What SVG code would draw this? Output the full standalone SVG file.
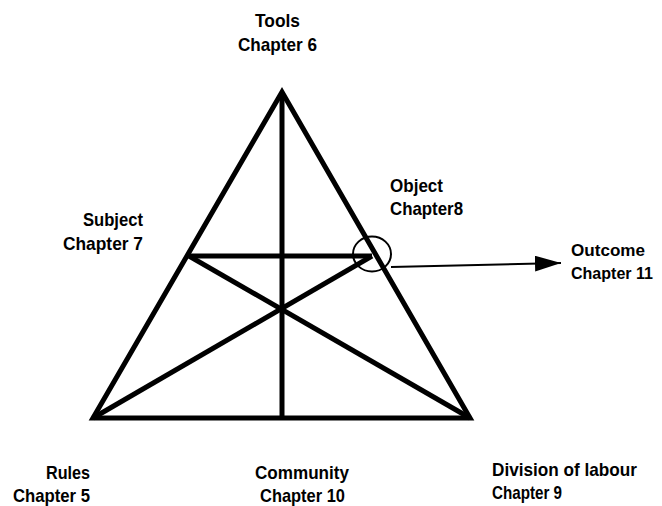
<svg xmlns="http://www.w3.org/2000/svg" width="662" height="506" viewBox="0 0 662 506">
<style>
.t{font-family:"Liberation Sans",Arial,sans-serif;font-weight:bold;font-size:19px;fill:#000}
.s{font-size:17px}
.thick{stroke:#000;stroke-width:5;fill:none;stroke-linecap:butt;stroke-linejoin:miter}
</style>
<defs>
<marker id="ah" viewBox="0 0 26 16" refX="26" refY="8" markerWidth="26" markerHeight="16" markerUnits="userSpaceOnUse" orient="auto"><path d="M0,0L26,8L0,16z" fill="#000"/></marker>
</defs>
<rect width="662" height="506" fill="#fff"/>
<g id="connectors">
<polygon class="thick" points="282,92 470,418 93,418"/>
<line class="thick" x1="282" y1="92" x2="282" y2="418"/>
<line class="thick" x1="189" y1="256" x2="372" y2="256"/>
<line class="thick" x1="93" y1="418" x2="372" y2="256"/>
<line class="thick" x1="470" y1="418" x2="189" y2="256"/>
<line x1="391" y1="267" x2="561" y2="263" stroke="#000" stroke-width="2" marker-end="url(#ah)"/>
</g>
<g id="object-circle"><ellipse cx="372" cy="254" rx="19" ry="17.5" fill="none" stroke="#000" stroke-width="2"/></g>
<g id="tools"><text class="t" x="255" y="27" textLength="45" lengthAdjust="spacingAndGlyphs">Tools</text><text class="t" x="238" y="51" textLength="79" lengthAdjust="spacingAndGlyphs">Chapter 6</text></g>
<g id="subject"><text class="t" x="83" y="226" textLength="60" lengthAdjust="spacingAndGlyphs">Subject</text><text class="t" x="63" y="250" textLength="80" lengthAdjust="spacingAndGlyphs">Chapter 7</text></g>
<g id="object"><text class="t" x="390" y="192" textLength="53" lengthAdjust="spacingAndGlyphs">Object</text><text class="t" x="390" y="215" textLength="73" lengthAdjust="spacingAndGlyphs">Chapter8</text></g>
<g id="outcome"><text class="t s" x="571" y="256" textLength="74" lengthAdjust="spacingAndGlyphs">Outcome</text><text class="t s" x="571" y="279" textLength="82" lengthAdjust="spacingAndGlyphs">Chapter 11</text></g>
<g id="rules"><text class="t" x="46" y="479" textLength="44" lengthAdjust="spacingAndGlyphs">Rules</text><text class="t" x="13" y="502" textLength="77" lengthAdjust="spacingAndGlyphs">Chapter 5</text></g>
<g id="community"><text class="t" x="255" y="479" textLength="94" lengthAdjust="spacingAndGlyphs">Community</text><text class="t" x="260" y="502" textLength="85" lengthAdjust="spacingAndGlyphs">Chapter 10</text></g>
<g id="division"><text class="t" x="492" y="476" textLength="145" lengthAdjust="spacingAndGlyphs">Division of labour</text><text class="t" x="492" y="499" textLength="70" lengthAdjust="spacingAndGlyphs">Chapter 9</text></g>
</svg>
